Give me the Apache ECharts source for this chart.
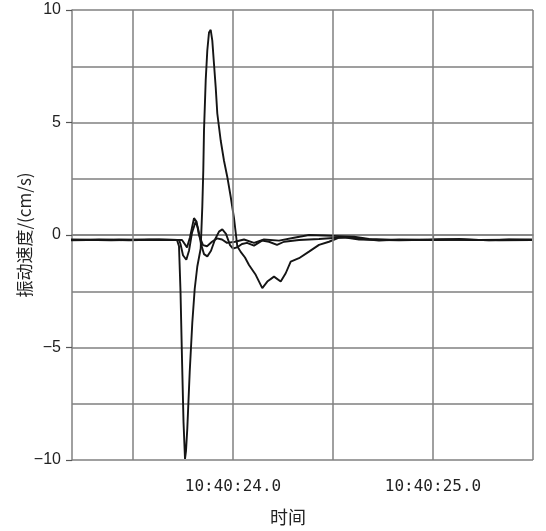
<!DOCTYPE html>
<html>
<head>
<meta charset="utf-8">
<script src="https://cdn.jsdelivr.net/npm/echarts@6/dist/echarts.min.js"></script>
<style>html,body{margin:0;padding:0;background:#fff}#c{width:546px;height:531px}</style>
</head>
<body>
<div id="c"></div>
<script>
// time in seconds after 10:40:00
var sTimes = [23.19,23.33,23.48,23.63,23.72,23.73,23.7375,23.745,23.7525,23.76,23.765,23.7715,23.7835,23.7965,23.8085,23.8215,23.8385,23.8465,23.8515,23.855,23.8635,23.8715,23.88,23.8885,23.8965,23.905,23.9135,23.9215,23.9385,23.955,23.9715,23.9885,24.005,24.0215,24.0385,24.06,24.08,24.1135,24.1465,24.1715,24.205,24.2385,24.2635,24.2885,24.33,24.38,24.43,24.48,24.53,24.58,24.655,24.73,24.83,24.98,25.13,25.28,25.38,25.495];
var sValues = [-0.22,-0.2,-0.24,-0.2,-0.22,-0.5,-2.5,-5.5,-8.3,-9.95,-9.6,-8.6,-6.1,-3.9,-2.4,-1.4,-0.6,1.25,2.88,4.65,6.87,8.2,9.0,9.12,8.64,7.6,6.57,5.4,4.2,3.3,2.58,1.7,0.75,-0.5,-0.75,-1.0,-1.33,-1.77,-2.36,-2.07,-1.85,-2.07,-1.7,-1.18,-1.03,-0.74,-0.44,-0.3,-0.12,-0.1,-0.18,-0.25,-0.2,-0.22,-0.18,-0.24,-0.2,-0.22];

var pTimes = [23.19,23.39,23.58,23.73,23.7375,23.75,23.7665,23.78,23.795,23.8135,23.825,23.84,23.855,23.8715,23.89,23.91,23.93,23.9465,23.965,23.985,24.0,24.02,24.045,24.07,24.105,24.145,24.18,24.22,24.255,24.33,24.43,24.555,24.63,24.83,25.03,25.23,25.495];
var pValues = [-0.2,-0.24,-0.2,-0.22,-0.4,-0.9,-1.1,-0.7,0.1,0.6,0.3,-0.4,-0.85,-0.95,-0.7,-0.2,0.15,0.25,0.05,-0.45,-0.6,-0.55,-0.4,-0.35,-0.47,-0.25,-0.3,-0.44,-0.3,-0.22,-0.18,-0.1,-0.2,-0.24,-0.2,-0.22,-0.2];

var qTimes = [23.19,23.43,23.63,23.745,23.755,23.77,23.785,23.805,23.8175,23.83,23.85,23.87,23.895,23.92,23.945,23.97,24.01,24.055,24.105,24.155,24.23,24.305,24.38,24.455,24.53,24.605,24.68,24.83,25.08,25.33,25.495];
var qValues = [-0.24,-0.2,-0.22,-0.22,-0.3,-0.55,-0.1,0.75,0.6,0.0,-0.45,-0.5,-0.3,-0.15,-0.2,-0.35,-0.3,-0.2,-0.35,-0.2,-0.25,-0.12,0.0,-0.02,-0.05,-0.08,-0.18,-0.22,-0.2,-0.24,-0.22];

var xGridValues = [23.5, 24, 24.5, 25, 25.5];
var xTickValues = [24, 25];
var xTickLabels = ['10:40:24.0', '10:40:25.0'];
var yTickValues = [-10, -5, 0, 5, 10];
var yTickLabels = ['\u221210', '\u22125', '0', '5', '10'];

function pairs(t, v) { return t.map(function (x, i) { return [x, v[i]]; }); }

var lineStyle = { color: '#151515', width: 1.9 };
var gridColor = '#808080';

var chart = echarts.init(document.getElementById('c'));
chart.setOption({
  animation: false,
  backgroundColor: '#fff',
  grid: { left: 72, right: 13, top: 10, bottom: 70 },
  xAxis: {
    type: 'value', min: 23.195, max: 25.5,
    name: '时间', nameLocation: 'middle', nameGap: 48, nameMoveOverlap: false,
    nameTextStyle: { fontFamily: 'Noto Sans CJK SC', fontSize: 18, color: '#222', padding: [0, 29, 0, 0] },
    axisLine: { show: true, lineStyle: { color: gridColor, width: 1.5 } },
    axisTick: { show: true, customValues: xTickValues, length: 5, lineStyle: { color: '#555', width: 1.2 } },
    axisLabel: {
      customValues: xTickValues, margin: 19,
      fontFamily: 'DejaVu Sans Mono', fontSize: 16, color: '#222',
      formatter: function (v) { var i = xTickValues.indexOf(v); return i >= 0 ? xTickLabels[i] : ''; }
    },
    splitLine: { show: false }
  },
  yAxis: {
    type: 'value', min: -10, max: 10, interval: 5,
    name: '振动速度/(cm/s)', nameLocation: 'middle', nameGap: 39, nameRotate: 90, nameMoveOverlap: false,
    nameTextStyle: { fontFamily: 'Noto Sans CJK SC', fontSize: 17, color: '#222' },
    axisLine: { show: true, lineStyle: { color: gridColor, width: 1.5 } },
    axisTick: { show: true, length: 6, lineStyle: { color: '#555', width: 1.2 } },
    axisLabel: {
      margin: 11, fontFamily: 'Liberation Sans', fontSize: 16, color: '#222',
      formatter: function (v) { var i = yTickValues.indexOf(v); return i >= 0 ? yTickLabels[i] : ''; }
    },
    splitLine: { show: true, lineStyle: { color: gridColor, width: 1.5 } },
    minorTick: { show: false, splitNumber: 2 },
    minorSplitLine: { show: true, lineStyle: { color: gridColor, width: 1.5 } }
  },
  series: [
    {
      type: 'line', data: [], z: 1, silent: true,
      markLine: {
        silent: true, symbol: ['none', 'none'], label: { show: false },
        lineStyle: { color: gridColor, width: 1.5, type: 'solid' },
        data: xGridValues.map(function (x) { return { xAxis: x }; })
      }
    },
    { type: 'line', data: pairs(qTimes, qValues), showSymbol: false, lineStyle: lineStyle, z: 3 },
    { type: 'line', data: pairs(pTimes, pValues), showSymbol: false, lineStyle: lineStyle, z: 3 },
    { type: 'line', data: pairs(sTimes, sValues), showSymbol: false, lineStyle: lineStyle, z: 3 }
  ]
});
</script>
</body>
</html>
